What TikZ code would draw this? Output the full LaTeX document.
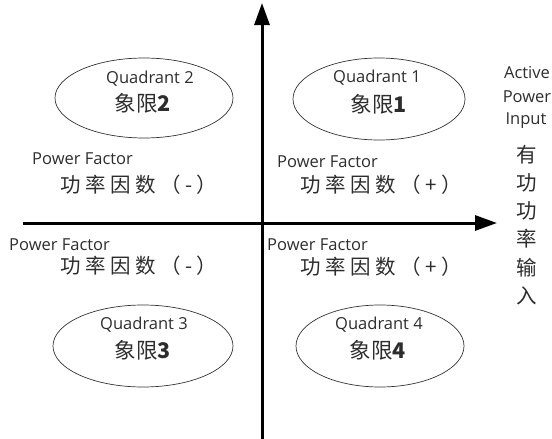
\documentclass[tikz,border=0pt]{standalone}
\usepackage{fontspec}
\setmainfont{Open Sans}
\newfontfamily\cjk{Noto Sans CJK SC}
\newfontfamily\cjksp[LetterSpace=22]{Noto Sans CJK SC}
\usetikzlibrary{arrows.meta,shapes.geometric}
\definecolor{txt}{RGB}{45,45,45}
\tikzset{
  axis/.style={line width=3pt,-{Triangle[length=22pt,width=15pt]}},
  quad/.style={draw=black!80,line width=0.7pt,ellipse,inner sep=0pt},
  entxt/.style={font=\fontsize{16.5}{19}\selectfont,text=txt,inner sep=0pt},
  cntxt/.style={font=\cjksp\fontsize{20.5}{24}\selectfont,text=txt,inner sep=0pt},
  qtxt/.style={font=\cjk\fontsize{21.5}{24}\selectfont,text=txt,inner sep=0pt},
  coltxt/.style={font=\cjk\fontsize{20.5}{24}\selectfont,text=txt,inner sep=0pt},
}
\begin{document}
\begin{tikzpicture}[x=1pt,y=-1pt]
\useasboundingbox (0,0) rectangle (552,439);
% axes
\coordinate (vb) at (262,439);
\coordinate (vt) at (262,3);
\coordinate (hl) at (23,223);
\coordinate (hr) at (497,223);
\draw[axis] (vb) -- (vt);
\draw[axis] (hl) -- (hr);
% ellipses
\node[quad,minimum width=178pt,minimum height=80pt] (e2) at (144,98) {};
\node[quad,minimum width=172pt,minimum height=82pt] (e1) at (379,99) {};
\node[quad,minimum width=180pt,minimum height=82pt] (e3) at (143,346) {};
\node[quad,minimum width=168pt,minimum height=82pt] (e4) at (380,346) {};
% quadrant labels
\node[entxt] (q2en) at (150,79) {Quadrant 2};
\node[qtxt] (q2cn) at (143,103) {象限\textbf{2}};
\node[entxt] (q1en) at (377,78) {Quadrant 1};
\node[qtxt] (q1cn) at (379,104) {象限\textbf{1}};
\node[entxt] (q3en) at (144,325) {Quadrant 3};
\node[qtxt] (q3cn) at (143,350) {象限\textbf{3}};
\node[entxt] (q4en) at (379,325) {Quadrant 4};
\node[qtxt] (q4cn) at (378,350) {象限\textbf{4}};
% power factor labels
\node[entxt,anchor=west] (pful) at (32,159) {Power Factor};
\node[cntxt,anchor=west] (cful) at (60,185) {功率因数（-）};
\node[entxt,anchor=west] (pfur) at (277,162) {Power Factor};
\node[cntxt,anchor=west] (cfur) at (300,185) {功率因数（+）};
\node[entxt,anchor=west] (pfll) at (9,245) {Power Factor};
\node[cntxt,anchor=west] (cfll) at (60,266) {功率因数（-）};
\node[entxt,anchor=west] (pflr) at (267,245) {Power Factor};
\node[cntxt,anchor=west] (cflr) at (300,267) {功率因数（+）};
% right column
\node[entxt] (act) at (527,73) {Active};
\node[entxt] (pow) at (527,97) {Power};
\node[entxt] (inp) at (526,121) {Input};
\node[coltxt] (c1) at (527,155) {有};
\node[coltxt] (c2) at (527,183) {功};
\node[coltxt] (c3) at (527,211) {功};
\node[coltxt] (c4) at (527,239) {率};
\node[coltxt] (c5) at (527,268) {输};
\node[coltxt] (c6) at (527,296) {入};
\end{tikzpicture}
\end{document}
